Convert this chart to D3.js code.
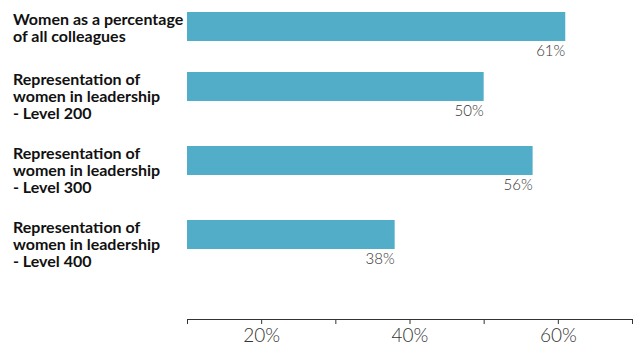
<!DOCTYPE html>
<html>
<head>
<meta charset="utf-8">
<script src="https://cdn.jsdelivr.net/npm/d3@7"></script>
<style>
  body { margin: 0; background: #fff; }
  svg { display: block; }
</style>
</head>
<body>
<svg id="chart"></svg>
<script>
// chart data
const categories = [
  ["Women as a percentage", "of all colleagues"],
  ["Representation of", "women in leadership", "- Level 200"],
  ["Representation of", "women in leadership", "- Level 300"],
  ["Representation of", "women in leadership", "- Level 400"]
];
const values = [61, 50, 56.6, 38];
const valueLabels = ["61%", "50%", "56%", "38%"];
const tickValues = [10, 20, 30, 40, 50, 60, 70];
const tickLabels = { 20: "20%", 40: "40%", 60: "60%" };

const WIDTH = 641;
const HEIGHT = 349;
const BAR_H = 29;
const LINE_H = 17;
const ROW_MIN = 60;
const ROW_GAP = 23;
const TOP = 12;
const AXIS_Y = 319;

const svg = d3.select("#chart")
  .attr("width", WIDTH)
  .attr("height", HEIGHT);

const x = d3.scaleLinear().domain([10, 70]).range([187, 632]);

// rows stack from the height of each label block
let tops = [];
let cur = TOP;
categories.forEach(lines => {
  tops.push(cur);
  cur += Math.max(ROW_MIN, lines.length * LINE_H + ROW_GAP);
});

const rows = svg.selectAll(".row")
  .data(values)
  .enter()
  .append("g")
  .attr("class", "row")
  .attr("transform", (d, i) => `translate(0,${tops[i]})`);

rows.append("rect")
  .attr("x", x(10))
  .attr("y", 0)
  .attr("width", d => x(d) - x(10))
  .attr("height", BAR_H)
  .attr("fill", "#52adc8");

rows.append("text")
  .attr("x", d => x(d))
  .attr("y", BAR_H + 15)
  .attr("text-anchor", "end")
  .attr("font-family", "Lato, 'Open Sans', sans-serif")
  .attr("font-weight", 300)
  .attr("font-size", "15px")
  .attr("fill", "#333")
  .text((d, i) => valueLabels[i]);

const cat = rows.append("text")
  .attr("x", 13)
  .attr("y", 13)
  .attr("font-family", "Lato, 'Open Sans', sans-serif")
  .attr("font-weight", 700)
  .attr("font-size", "16px")
  .attr("fill", "#111");

cat.selectAll("tspan")
  .data((d, i) => categories[i])
  .enter()
  .append("tspan")
  .attr("x", 13)
  .attr("dy", (d, j) => j === 0 ? 0 : LINE_H)
  .text(d => d);

// axis at the bottom
const axis = d3.axisBottom(x)
  .tickValues(tickValues)
  .tickSize(5)
  .tickFormat(d => tickLabels[d] || "");

const ax = svg.append("g")
  .attr("transform", `translate(0,${AXIS_Y})`)
  .call(axis);

ax.select(".domain").attr("stroke", "#333");
ax.selectAll(".tick line").attr("stroke", "#333");
ax.selectAll(".tick text")
  .attr("y", 10)
  .attr("dy", "0.71em")
  .attr("font-family", "Lato, 'Open Sans', sans-serif")
  .attr("font-weight", 300)
  .attr("font-size", "19px")
  .attr("fill", "#333");
</script>
</body>
</html>
